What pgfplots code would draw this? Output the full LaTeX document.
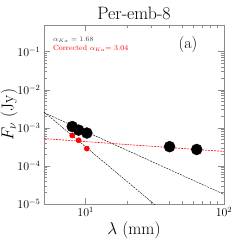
\documentclass[border=0pt]{standalone}
\usepackage{pgfplots}
\pgfplotsset{compat=1.18}
\begin{document}
\begin{tikzpicture}
\useasboundingbox (-44bp,-45bp) rectangle (205bp,204bp);
\begin{axis}[
  scale only axis,
  width=180bp, height=179bp,
  xmode=log, ymode=log,
  xmin=5, xmax=100, ymin=1e-5, ymax=0.5,
  xtick={10,100}, ytick={1e-5,1e-4,1e-3,1e-2,1e-1},
  axis line style={black!45},
  every tick/.style={black!45},
  tick align=inside,
  major tick length=6bp, minor tick length=3bp,
  xtick pos=both, ytick pos=both,
  tick label style={font=\fontsize{11.5}{13}\selectfont},
  xlabel={$\lambda$ (mm)},
  ylabel={$F_\nu$ (Jy)},
  label style={font=\fontsize{17}{19}\selectfont},
  xlabel style={yshift=2bp},
  ylabel style={yshift=-7bp},
  title={Per-emb-8},
  title style={font=\fontsize{18}{20}\selectfont, yshift=-4bp},
  clip=true,
]
\addplot[black, thin, dash pattern=on 2pt off 1pt] coordinates {(5,2.5e-3) (100,1.8e-5)};
\addplot[black, thin, dash pattern=on 2pt off 1pt] coordinates {(5,2.6e-3) (100,2.9e-7)};
\addplot[red, line width=0.6pt, dash pattern=on 2pt off 1pt] coordinates {(5,5.2e-4) (100,2.4e-4)};
\addplot[only marks, mark=*, mark size=5.5bp, black] coordinates {
  (8.0,1.08e-3) (8.9,8.7e-4) (10.2,7.3e-4) (40.4,3.2e-4) (63.5,2.7e-4)};
\addplot[only marks, mark=*, mark size=2.6bp, red] coordinates {
  (8.0,6.3e-4) (8.9,4.7e-4) (10.2,2.85e-4)};
\node[anchor=west, font=\fontsize{7.5}{8}\selectfont, text=black!75, inner sep=0pt] at (rel axis cs:0.05,0.915) {$\alpha_{Ka}=1.68$};
\node[anchor=west, font=\fontsize{7.5}{8}\selectfont, text=red, inner sep=0pt] at (rel axis cs:0.05,0.87) {Corrected $\alpha_{Ka}$= 3.04};
\node[font=\fontsize{16}{18}\selectfont, inner sep=0pt] at (rel axis cs:0.8,0.89) {(a)};
\end{axis}
\end{tikzpicture}
\end{document}
